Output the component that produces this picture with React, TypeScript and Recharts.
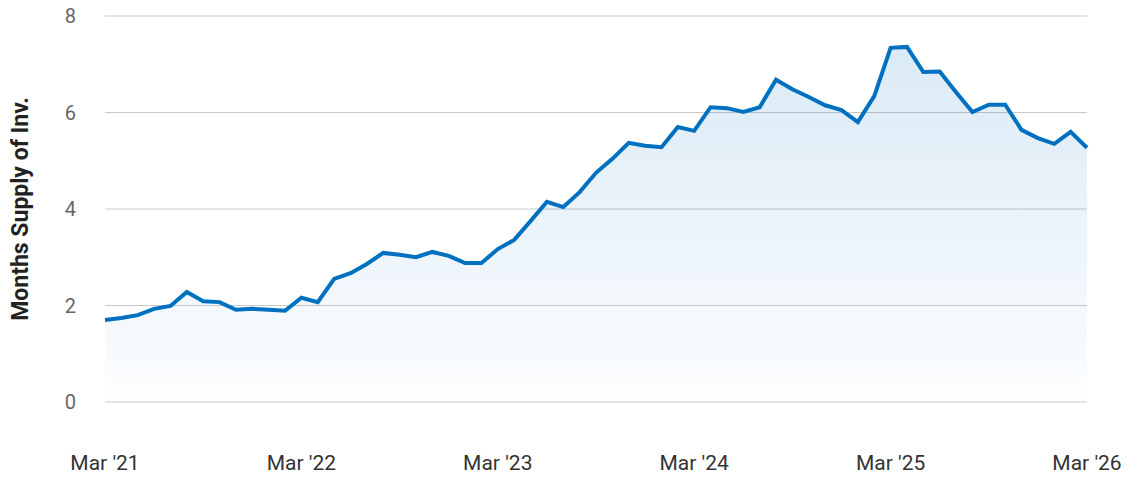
import React from 'react';
import { AreaChart, Area, XAxis, YAxis, CartesianGrid } from 'recharts';

const monthNames = ['Jan', 'Feb', 'Mar', 'Apr', 'May', 'Jun', 'Jul', 'Aug', 'Sep', 'Oct', 'Nov', 'Dec'];

// monthly points, Mar '21 .. Mar '26
const supply = [
    1.70, 1.74, 1.80, 1.93, 1.99, 2.28, 2.09, 2.07, 1.91, 1.93, 1.91, 1.89,
    2.16, 2.07, 2.55, 2.67, 2.86, 3.09, 3.05, 3.00, 3.11, 3.03, 2.88, 2.88,
    3.17, 3.36, 3.75, 4.15, 4.04, 4.35, 4.75, 5.04, 5.37, 5.31, 5.28, 5.70,
    5.62, 6.11, 6.09, 6.01, 6.11, 6.68, 6.48, 6.32, 6.15, 6.05, 5.80, 6.34,
    7.34, 7.36, 6.84, 6.85, 6.42, 6.01, 6.16, 6.16, 5.64, 5.47, 5.35, 5.60,
    5.27,
];

const yTicks = [0, 2, 4, 6, 8];

const months = supply.map((_, i) => {
    const m = (2 + i) % 12;
    const y = 21 + Math.floor((2 + i) / 12);
    return `${monthNames[m]} '${y}`;
});

const data = months.map((month, i) => ({ month, value: supply[i] }));

export default function App() {
    return (
        <div style={{ position: 'absolute', left: 0, top: 0 }}>
            <AreaChart
                width={1138}
                height={478}
                data={data}
                margin={{ top: 16, right: 51, left: 0, bottom: 0 }}
                style={{ fontFamily: 'Roboto' }}
            >
                <defs>
                    <linearGradient id="supplyFill" x1="0" y1="0" x2="0" y2="1">
                        <stop offset="0%" stopColor="#0070c0" stopOpacity={0.24} />
                        <stop offset="100%" stopColor="#0070c0" stopOpacity={0.02} />
                    </linearGradient>
                </defs>
                <CartesianGrid vertical={false} stroke="#c8c8c8" />
                <XAxis
                    dataKey="month"
                    interval={11}
                    axisLine={false}
                    tickLine={false}
                    tickSize={0}
                    tickMargin={53}
                    height={76}
                    tick={{ fontSize: 21, fill: '#333' }}
                />
                <YAxis
                    domain={[0, 8]}
                    ticks={yTicks}
                    width={105}
                    axisLine={false}
                    tickLine={false}
                    tickSize={0}
                    tickMargin={29}
                    tick={{ fontSize: 20, fill: '#666' }}
                    label={{
                        value: 'Months Supply of Inv.',
                        angle: -90,
                        position: 'insideLeft',
                        offset: 20,
                        style: { textAnchor: 'middle', fontSize: 23, fontWeight: 700, fill: '#222' },
                    }}
                />
                <Area
                    type="linear"
                    dataKey="value"
                    stroke="#0070c0"
                    strokeWidth={4}
                    fill="url(#supplyFill)"
                    dot={false}
                    activeDot={false}
                    isAnimationActive={false}
                />
            </AreaChart>
        </div>
    );
}
